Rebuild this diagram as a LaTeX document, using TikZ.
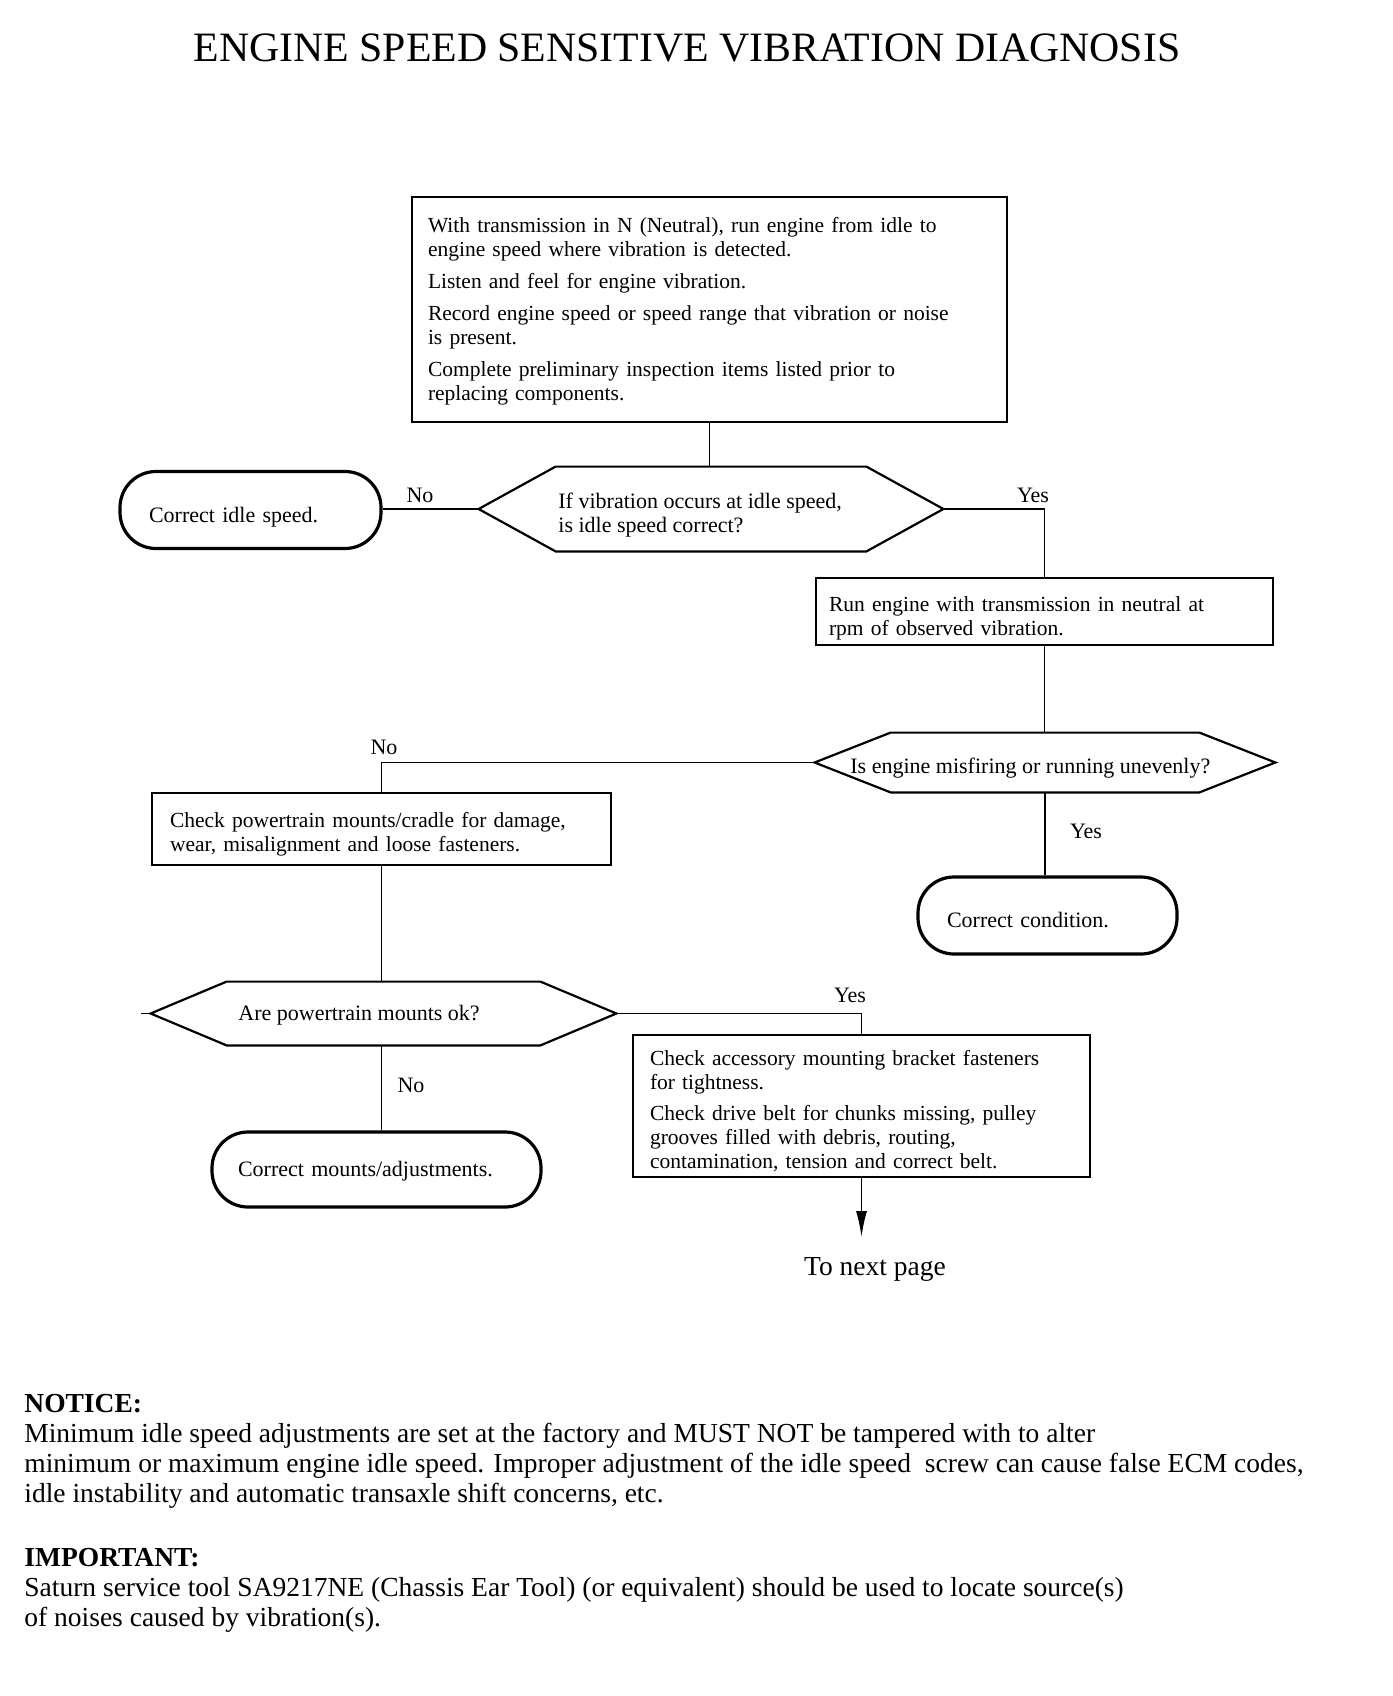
\documentclass[tikz,border=0pt]{standalone}
\usepackage{fontspec}
\setmainfont{Liberation Serif}
\usetikzlibrary{arrows.meta,calc}
\newcommand\topstrut[1]{\rule{0pt}{#1}}
\begin{document}
\begin{tikzpicture}[x=0.5pt,y=-0.5pt,
 boxtxt/.style={font=\fontsize{11}{12}\selectfont},
 pboxtxt/.style={font=\fontsize{10.75}{12}\selectfont},
 pbox/.style={draw, line width=0.9pt, rectangle, align=left, inner ysep=0pt, pboxtxt},
 term/.style={draw, line width=1.6pt, rectangle, rounded corners=18pt, align=left, inner ysep=0pt, boxtxt},
 hexa/.style={inner sep=0pt},
 hexline/.style={line width=1.1pt, line join=miter},
 conn/.style={line width=0.8pt},
 lbl/.style={boxtxt, inner sep=0pt},
 qtxt/.style={boxtxt, inner sep=0pt, anchor=west, align=left},
 note/.style={font=\fontsize{13.75}{15}\selectfont, align=left, inner sep=0pt, anchor=west}
]
\useasboundingbox (0,0) rectangle (1392,1696);

\node[font=\fontsize{20.9}{24}\selectfont, inner sep=0pt] (title) at (687,48) {ENGINE SPEED SENSITIVE VIBRATION DIAGNOSIS};

% process boxes
\node[pbox, text width=281.5pt, inner xsep=8pt, minimum height=112.5pt] (b1) at (709.5,309.5)
 {\topstrut{9.5pt}With transmission in N (Neutral), run engine from idle to\\
  engine speed where vibration is detected.\\[4pt]
  Listen and feel for engine vibration.\\[4pt]
  Record engine speed or speed range that vibration or noise\\
  is present.\\[4pt]
  Complete preliminary inspection items listed prior to\\
  replacing components.};
\node[pbox, text width=215.5pt, inner xsep=6.5pt, minimum height=33.5pt] (b2) at (1044.5,611.5)
 {\topstrut{13.9pt}Run engine with transmission in neutral at\\
  rpm of observed vibration.};
\node[pbox, text width=211.5pt, inner xsep=9pt, minimum height=36pt] (b3) at (381.5,829)
 {\topstrut{12.8pt}Check powertrain mounts/cradle for damage,\\
  wear, misalignment and loose fasteners.};
\node[pbox, text width=211.5pt, inner xsep=8.5pt, minimum height=71pt] (b4) at (861.5,1106)
 {\topstrut{12.8pt}Check accessory mounting bracket fasteners\\
  for tightness.\\[3.5pt]
  Check drive belt for chunks missing, pulley\\
  grooves filled with debris, routing,\\
  contamination, tension and correct belt.};

% terminals
\node[term, text width=101.5pt, inner xsep=14.5pt, minimum height=38.5pt] (t1) at (250.5,510) {\topstrut{15.1pt}Correct idle speed.};
\node[term, text width=100.5pt, inner xsep=14.5pt, minimum height=38.5pt] (t2) at (1047.5,915.5) {\topstrut{11.8pt}Correct condition.};
\node[term, text width=138.5pt, inner xsep=13pt, minimum height=37.5pt] (t3) at (376.5,1169.5) {\topstrut{9.7pt}Correct mounts/adjustments.};

% decision hexagons
\node[hexa, minimum width=232pt, minimum height=42pt] (d1) at (711,509) {};
\node[hexa, minimum width=230pt, minimum height=29.5pt] (d2) at (1045,762.5) {};
\node[hexa, minimum width=232.5pt, minimum height=31.5pt] (d3) at (383.5,1013.5) {};
\foreach \d/\c in {d1/77,d2/76,d3/76}{
  \draw[hexline] (\d.west) -- ($(\d.north west)+(\c,0)$) -- ($(\d.north east)+(-\c,0)$) -- (\d.east)
    -- ($(\d.south east)+(-\c,0)$) -- ($(\d.south west)+(\c,0)$) -- cycle;
}
\node[qtxt] (d1t) at (558,515) {If vibration occurs at idle speed,\\ is idle speed correct?};
\node[qtxt] (d2t) at (850,768) {Is engine misfiring or running unevenly?};
\node[qtxt] (d3t) at (238,1015) {Are powertrain mounts ok?};

% connectors
\draw[conn] (b1.south) -- (b1.south |- d1.north);
\draw[conn, line width=1.3pt] (d1.west) -- (d1.west -| t1.east);
\draw[conn] (d1.east) -| (b2.north);
\draw[conn] (b2.south) -- (b2.south |- d2.north);
\draw[conn] (d2.west) -| (b3.north);
\draw[conn] (d2.south) -- (d2.south |- t2.north);
\draw[conn] (b3.south) -- (b3.south |- d3.north);
\draw[conn] (d3.east) -| (b4.north);
\draw[conn] (b3.south |- d3.south) -- (b3.south |- t3.north);
\draw[conn] (d3.west) -- ++(-10,0);
\coordinate (nx) at (861.5,1237);
\draw[conn, -{Latex[length=13pt,width=5.5pt]}] (b4.south) -- (nx);

% labels
\node[lbl] (l1) at (420,495) {No};
\node[lbl] (l2) at (1033,495) {Yes};
\node[lbl] (l3) at (384,747) {No};
\node[lbl] (l4) at (1086,831) {Yes};
\node[lbl] (l5) at (850,995) {Yes};
\node[lbl] (l6) at (411,1085) {No};

\node[font=\fontsize{13.75}{15}\selectfont, inner sep=0pt] (next) at (875,1269) {To next page};

% notes
\node[note] (notice) at (24,1451)
 {\textbf{NOTICE:}\\
  Minimum idle speed adjustments are set at the factory and MUST NOT be tampered with to alter\\
  minimum or maximum engine idle speed. Improper adjustment of the idle speed\ \ screw can cause false ECM codes,\\
  idle instability and automatic transaxle shift concerns, etc.};
\node[note] (important) at (24,1590)
 {\textbf{IMPORTANT:}\\
  Saturn service tool SA9217NE (Chassis Ear Tool) (or equivalent) should be used to locate source(s)\\
  of noises caused by vibration(s).};
\end{tikzpicture}
\end{document}
